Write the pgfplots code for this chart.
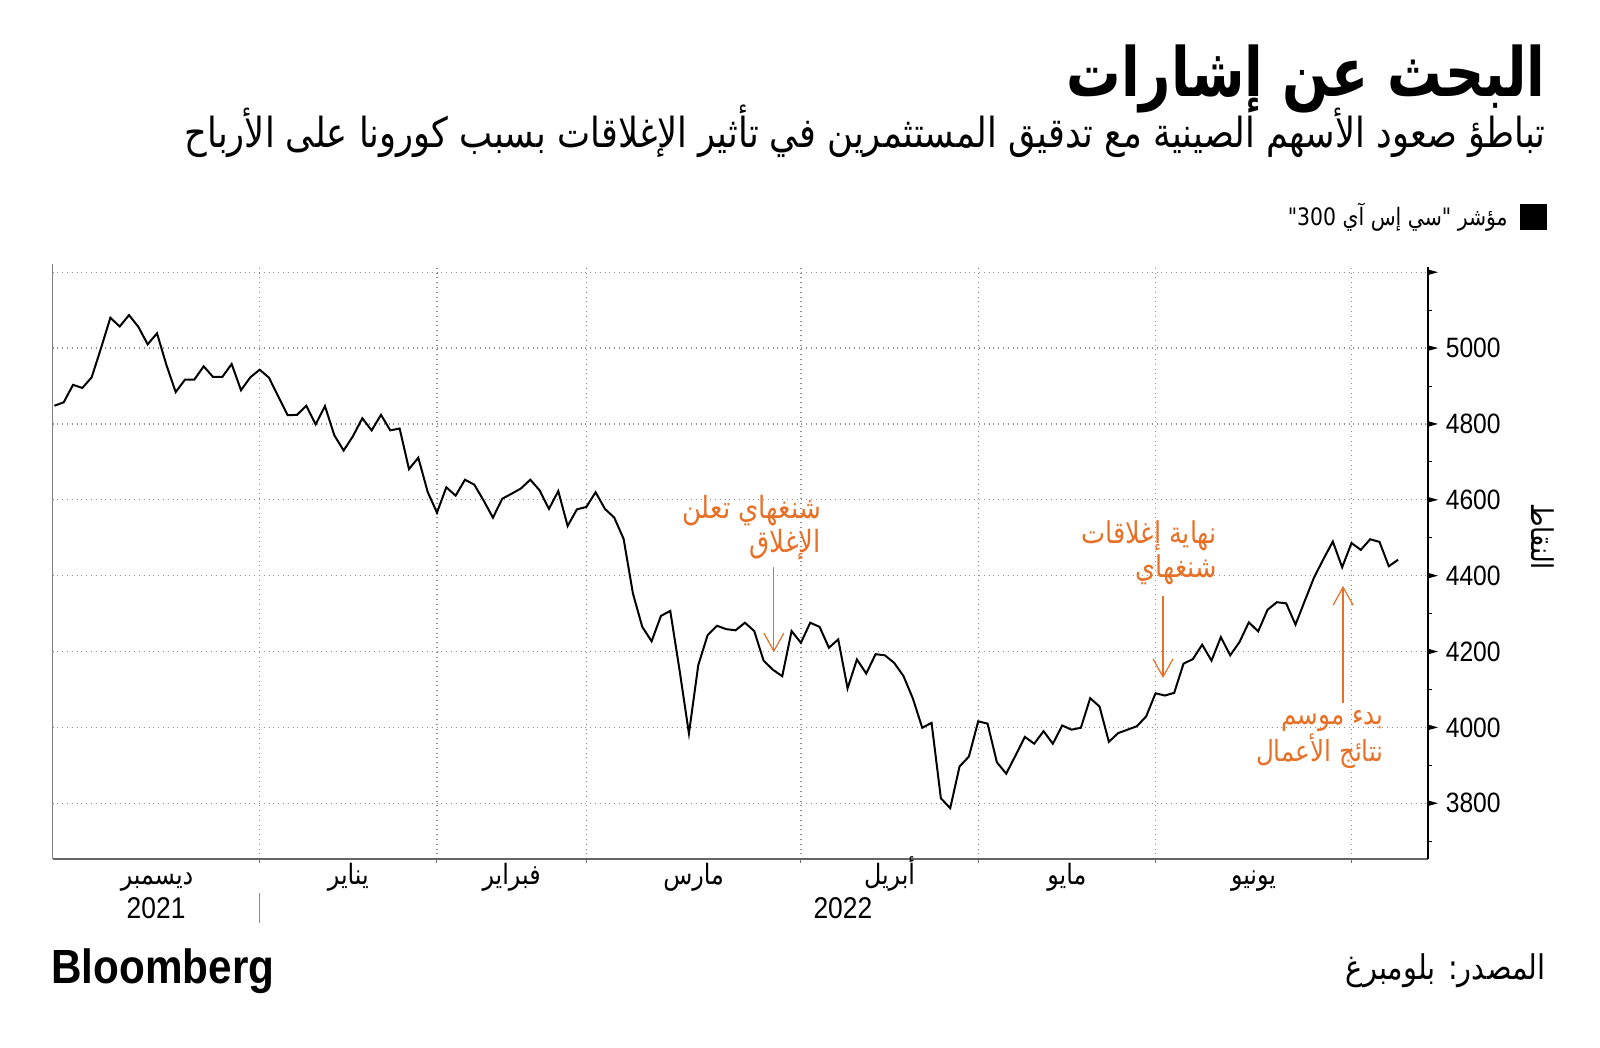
\documentclass[border=0pt]{standalone}
\usepackage{fontspec}
\usepackage{pgfplots}
\usepackage{pgfplotstable}
\pgfplotsset{compat=1.18}
\usetikzlibrary{arrows.meta}
\setmainfont{Liberation Sans}[FakeStretch=0.88]
\newfontfamily\ar[Script=Arabic,FakeStretch=0.85]{DejaVu Sans}
\newfontfamily\artitle[Script=Arabic,FakeStretch=0.8]{DejaVu Sans}
\TeXXeTstate=1
\definecolor{annot}{RGB}{230,112,38}

% CSI 300, trading days from 1 Dec 2021 (i=0) to 7 Jul 2022 (i=144)
\pgfplotstableread{
i v
0 4848
1 4857
2 4903
3 4895
4 4923
5 5000
6 5080
7 5057
8 5087
9 5056
10 5010
11 5039
12 4956
13 4884
14 4917
15 4917
16 4952
17 4924
18 4924
19 4958
20 4889
21 4923
22 4943
23 4922
24 4872
25 4823
26 4824
27 4848
28 4799
29 4847
30 4770
31 4730
32 4768
33 4815
34 4783
35 4824
36 4783
37 4788
38 4681
39 4711
40 4621
41 4566
42 4633
43 4611
44 4653
45 4640
46 4598
47 4553
48 4603
49 4616
50 4630
51 4653
52 4625
53 4576
54 4623
55 4531
56 4575
57 4581
58 4620
59 4576
60 4553
61 4497
62 4353
63 4265
64 4227
65 4294
66 4307
67 4150
68 3984
69 4164
70 4243
71 4268
72 4259
73 4256
74 4276
75 4254
76 4176
77 4152
78 4135
79 4254
80 4223
81 4276
82 4265
83 4210
84 4232
85 4103
86 4179
87 4142
88 4193
89 4190
90 4170
91 4135
92 4076
93 3999
94 4012
95 3813
96 3787
97 3897
98 3923
99 4016
100 4010
101 3908
102 3878
103 3926
104 3975
105 3957
106 3990
107 3957
108 4005
109 3994
110 3999
111 4077
112 4055
113 3962
114 3985
115 3994
116 4003
117 4029
118 4090
119 4084
120 4091
121 4168
122 4180
123 4218
124 4176
125 4238
126 4190
127 4225
128 4277
129 4253
130 4310
131 4330
132 4327
133 4271
134 4334
135 4396
136 4444
137 4490
138 4422
139 4486
140 4468
141 4496
142 4489
143 4425
144 4442
}\csidata

\begin{document}
\begin{tikzpicture}
\path[use as bounding box] (0pt,0pt) rectangle (800pt,-524pt);

% title block
\node[anchor=base east, inner sep=0pt, font=\artitle\bfseries\fontsize{34}{40}\selectfont]
  at (773pt,-48.5pt) {\beginR البحث عن إشارات\endR};
\node[anchor=base east, inner sep=0pt, font=\ar\fontsize{20.7}{24}\selectfont]
  at (773pt,-74pt) {\beginR تباطؤ صعود الأسهم الصينية مع تدقيق المستثمرين في تأثير الإغلاقات بسبب كورونا على الأرباح\endR};

% legend
\fill (760pt,-102pt) rectangle (773.5pt,-115pt);
\node[anchor=east, inner sep=0pt, font=\ar\fontsize{12}{14}\selectfont]
  at (754pt,-108.5pt) {\beginR مؤشر "سي إس آي \beginL 300\endL"\endR};

\begin{axis}[
  at={(26.25pt,-429.5pt)}, anchor=south west,
  scale only axis,
  width=687.75pt, height=295.85pt,
  xmin=-0.2, xmax=147.2,
  ymin=3653, ymax=5213,
  clip=false,
  axis x line*=bottom,
  axis y line*=right,
  x axis line style={-, draw=black!60, line width=0.7pt},
  y axis line style={-, draw=black, line width=1.2pt},
  xtick={22,41,57,80,99,118,139},
  xticklabels={},
  tick align=outside,
  major tick length=2.2pt,
  xtick style={draw=black!55, line width=0.5pt},
  ytick={3800,4000,4200,4400,4600,4800,5000,5200},
  yticklabels={3800,4000,4200,4400,4600,4800,5000,{}},
  ytick style={draw=none},
  yticklabel style={anchor=west, inner sep=0pt, xshift=6.5pt,
    font=\fontsize{14}{16}\selectfont},
  xmajorgrids, ymajorgrids,
  grid style={dotted, draw=black!45, line width=0.6pt},
  extra x ticks={11,31.5,49,68.5,89.5,108.5,128.5},
  extra x tick labels={
    {\beginR ديسمبر\endR},{\beginR يناير\endR},{\beginR فبراير\endR},
    {\beginR مارس\endR},{\beginR أبريل\endR},{\beginR مايو\endR},
    {\beginR يونيو\endR}},
  extra x tick style={grid=none, major tick length=0pt,
    xticklabel style={font=\ar\fontsize{14}{16}\selectfont,
      anchor=base, inner sep=0pt, yshift=-12.5pt}},
  after end axis/.code={
    \draw[black!50, line width=0.5pt] (rel axis cs:0,0) -- (rel axis cs:0,1.005);
    \foreach \v in {3800,4000,...,5200} {
      \fill ({rel axis cs:1,0} |- {axis cs:0,\v}) ++(0,1.4pt) -- ++(5pt,-1.4pt) -- ++(-5pt,-1.4pt) -- cycle;
    }
    \foreach \v in {3700,3900,...,5100} {
      \draw[line width=0.4pt] ({rel axis cs:1,0} |- {axis cs:0,\v}) -- ++(2.2pt,0);
    }
  },
]
\addplot[black, line width=1pt] table[x=i, y=v] {\csidata};

% year row
\node[font=\fontsize{15}{17}\selectfont] at ([yshift=-24.5pt]axis cs:10.9,3653) {2021};
\node[font=\fontsize{15}{17}\selectfont] at ([yshift=-24.5pt]axis cs:84.5,3653) {2022};
\draw[black!45, line width=0.4pt] ([yshift=-17pt]axis cs:22,3653) -- ([yshift=-32pt]axis cs:22,3653);

% annotations
\node[anchor=east, align=right, inner sep=0pt, text=annot,
  font=\ar\fontsize{15.3}{17}\selectfont]
  at (axis cs:82.2,4526) {\beginR شنغهاي تعلن\endR\\\beginR الإغلاق\endR};
\draw[annot, line width=0.6pt, -{Straight Barb[length=9pt, width=10pt]}]
  (axis cs:77.1,4423) -- (axis cs:77.1,4198);

\node[anchor=east, align=right, inner sep=0pt, text=annot,
  font=\ar\fontsize{15}{17}\selectfont]
  at (axis cs:124.6,4460) {\beginR نهاية إغلاقات\endR\\\beginR شنغهاي\endR};
\draw[annot, line width=0.6pt, -{Straight Barb[length=9pt, width=10pt]}]
  (axis cs:118.8,4346) -- (axis cs:118.8,4130);

\node[anchor=east, align=right, inner sep=0pt, text=annot,
  font=\ar\fontsize{14.5}{17}\selectfont]
  at (axis cs:142.5,3967) {\beginR بدء موسم\endR\\\beginR نتائج الأعمال\endR};
\draw[annot, line width=0.6pt, -{Straight Barb[length=9pt, width=10pt]}]
  (axis cs:138.1,4064) -- (axis cs:138.1,4373);
\end{axis}

% y axis title
\node[rotate=-90, font=\ar\fontsize{15}{17}\selectfont, inner sep=0pt]
  at (771.5pt,-268.3pt) {\beginR النقاط\endR};

% footer
\node[anchor=west, inner sep=0pt, font=\bfseries\fontsize{24}{27}\selectfont]
  at (25.5pt,-485.5pt) {Bloomberg};
\node[anchor=east, inner sep=0pt, font=\ar\fontsize{17}{19}\selectfont]
  at (773pt,-485.5pt) {\beginR المصدر: بلومبرغ\endR};
\end{tikzpicture}
\end{document}
